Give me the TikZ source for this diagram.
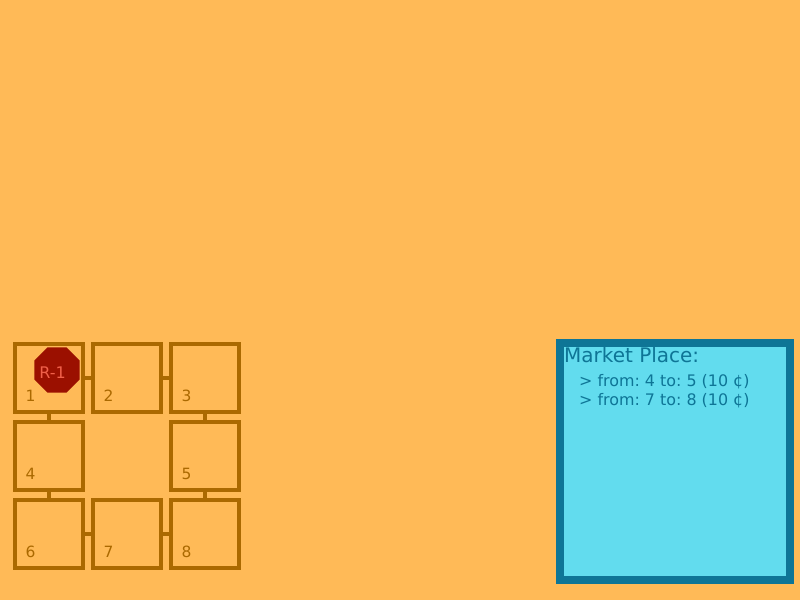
\documentclass[tikz,border=0pt]{standalone}
\usepackage{fontspec}
\setmainfont{DejaVu Sans}
\usetikzlibrary{shapes.geometric}
\definecolor{bgcol}{HTML}{FFBA57}
\definecolor{cellcol}{HTML}{AB6900}
\definecolor{robotcol}{HTML}{9B1000}
\definecolor{robottext}{HTML}{F0604A}
\definecolor{marketfill}{HTML}{62DCEE}
\definecolor{marketcol}{HTML}{0E7596}
\frenchspacing
\tikzset{
  cellbox/.style={draw=cellcol,line width=4pt,minimum size=68pt,inner sep=0pt,outer sep=0pt},
  celllabel/.style={text=cellcol,font=\fontsize{15.5}{15.5}\selectfont,anchor=base west,inner sep=0pt},
  link/.style={draw=cellcol,line width=4pt},
  robot/.style={regular polygon,regular polygon sides=8,fill=robotcol,minimum size=49pt,inner sep=0pt,outer sep=0pt},
  markettext/.style={text=marketcol,anchor=base west,inner sep=0pt,font=\fontsize{15.9}{15.9}\selectfont}
}
\begin{document}
\begin{tikzpicture}[x=1pt,y=-1pt]
% background
\fill[bgcol] (0,0) rectangle (800,600);
\useasboundingbox (0,0) rectangle (800,600);

% grid cells
\foreach \n/\x/\y in {1/49/378,2/127/378,3/205/378,4/49/456,5/205/456,6/49/534,7/127/534,8/205/534}{
  \node[cellbox] (c\n) at (\x,\y) {};
  \node[celllabel] (l\n) at (\x-23.5,\y+23) {\n};
}

% links between cells
\foreach \a/\b in {1/2,2/3,1/4,3/5,4/6,5/8,6/7,7/8}
  \draw[link] (c\a) -- (c\b);

% robot
\node[robot] (robot) at (57,370) {};
\node[celllabel,text=robottext,anchor=base,font=\fontsize{16}{16}\selectfont] (robotname) at (52.5,378) {R-1};

% market
\node[draw=marketcol,fill=marketfill,line width=8pt,minimum width=230pt,minimum height=237pt,inner sep=0pt] (market) at (675,461.5) {};
\node[markettext,font=\fontsize{20}{20}\selectfont] (markettitle) at (564,362.5) {Market Place:};
\node[markettext] (offer1) at (579,386.5) {> from: 4 to: 5 (10 ¢)};
\node[markettext] (offer2) at (579,405.5) {> from: 7 to: 8 (10 ¢)};
\end{tikzpicture}
\end{document}
